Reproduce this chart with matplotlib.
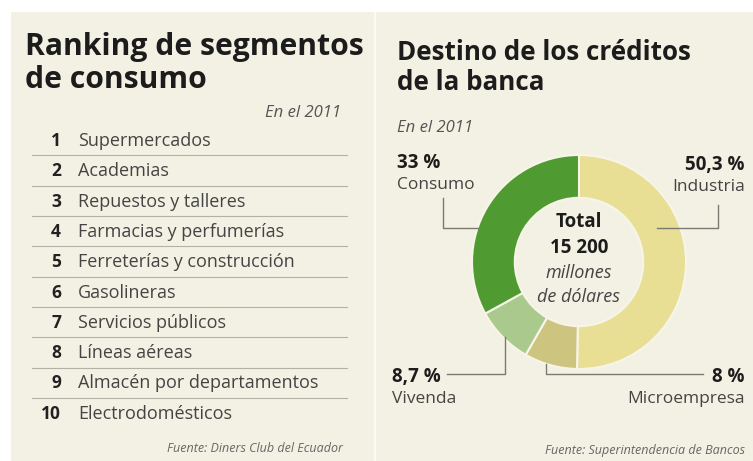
import matplotlib.pyplot as plt
from matplotlib.patches import Rectangle

plt.rcParams['font.family'] = ['Open Sans', 'DejaVu Sans']

# ranking de segmentos de consumo, 2011
posiciones = list(range(1, 11))
segmentos = ['Supermercados', 'Academias', 'Repuestos y talleres',
             'Farmacias y perfumerías', 'Ferreterías y construcción',
             'Gasolineras', 'Servicios públicos', 'Líneas aéreas',
             'Almacén por departamentos', 'Electrodomésticos']

# destino de los créditos de la banca, 2011 (%)
destinos = ['Industria', 'Microempresa', 'Vivenda', 'Consumo']
porcentajes = [50.3, 8, 8.7, 33]
etiquetas = ['50,3 %', '8 %', '8,7 %', '33 %']
colores = ['#e8de94', '#cdc57f', '#a9c98d', '#4f9b31']
total = '15 200'

fondo = '#f3f1e3'
oscuro = '#1c1c1c'
gris = '#444444'

fig = plt.figure(figsize=(7.53, 4.61), dpi=100, facecolor='white')

# capa de fondo en coordenadas de pixel
ax = fig.add_axes([0, 0, 1, 1])
ax.set_xlim(0, 753)
ax.set_ylim(461, 0)
ax.axis('off')
ax.add_patch(Rectangle((11, 12), 742, 449, color=fondo, lw=0))
ax.add_patch(Rectangle((374, 12), 2.5, 449, color='#fbfaf4', lw=0))

# --- panel izquierdo: ranking ---
ax.text(25, 55, 'Ranking de segmentos', fontsize=21.7, fontweight='bold',
        color=oscuro, va='baseline')
ax.text(25, 88, 'de consumo', fontsize=21.7, fontweight='bold',
        color=oscuro, va='baseline')
ax.text(341, 113, 'En el 2011', fontsize=12, style='italic', color='#555555',
        ha='right', va='center')

for i, (n, seg) in enumerate(zip(posiciones, segmentos)):
    y = 141 + 30.3 * i
    ax.text(61, y, str(n), fontsize=12.5, fontweight='bold', color='#222222',
            ha='right', va='center')
    ax.text(78, y, seg, fontsize=13, color=gris, va='center')
    if i < len(segmentos) - 1:
        ax.plot([32, 347], [y + 14.5, y + 14.5], color='#b3b1a6', lw=0.8)

ax.text(343, 448, 'Fuente: Diners Club del Ecuador', fontsize=9,
        style='italic', color='#666666', ha='right', va='center')

# --- panel derecho: dona ---
cx, cy, r = 579, 262, 107
pax = fig.add_axes([(cx - r) / 753, (461 - cy - r) / 461, 2 * r / 753, 2 * r / 461])
pax.pie(porcentajes, colors=colores, startangle=90, counterclock=False,
        radius=1, wedgeprops=dict(width=0.4, edgecolor='#f7f5e8', linewidth=1.5))
pax.set_xlim(-1, 1)
pax.set_ylim(-1, 1)
pax.axis('off')

ov = fig.add_axes([0, 0, 1, 1], facecolor='none')
ov.set_xlim(0, 753)
ov.set_ylim(461, 0)
ov.axis('off')

ov.text(397, 60, 'Destino de los créditos', fontsize=18.7, fontweight='bold',
        color=oscuro, va='baseline')
ov.text(397, 90, 'de la banca', fontsize=18.7, fontweight='bold',
        color=oscuro, va='baseline')
ov.text(397, 128, 'En el 2011', fontsize=12, style='italic', color='#555555',
        va='center')

# líneas guía
linea = dict(color='#7a7a72', lw=1)
ov.plot([443, 443, 479], [198, 228, 228], **linea)
ov.plot([657, 718, 718], [228, 228, 205], **linea)
ov.plot([447, 505, 505], [374, 374, 337], **linea)
ov.plot([546, 546, 703], [364, 374, 374], **linea)

# etiquetas de porcentaje
pos = {
    'Industria': (745, 165, 'right'),
    'Microempresa': (745, 377, 'right'),
    'Vivenda': (392, 377, 'left'),
    'Consumo': (397, 163, 'left'),
}
for nombre, etq in zip(destinos, etiquetas):
    x, y, ha = pos[nombre]
    ov.text(x, y, etq, fontsize=13.5, fontweight='bold', color=oscuro,
            ha=ha, va='center')
    ov.text(x, y + 22, nombre, fontsize=12.5, color=gris, ha=ha, va='center')

ov.text(cx, 222, 'Total', fontsize=13.5, fontweight='bold', color=oscuro,
        ha='center', va='center')
ov.text(cx, 248, total, fontsize=13.5, fontweight='bold', color=oscuro,
        ha='center', va='center')
ov.text(cx, 273, 'millones', fontsize=13, style='italic', color=gris,
        ha='center', va='center')
ov.text(cx, 297, 'de dólares', fontsize=13, style='italic', color=gris,
        ha='center', va='center')

ov.text(545, 450, 'Fuente: Superintendencia de Bancos', fontsize=9,
        style='italic', color='#666666', va='center')

fig.savefig('out.png', dpi=100, facecolor='white')
